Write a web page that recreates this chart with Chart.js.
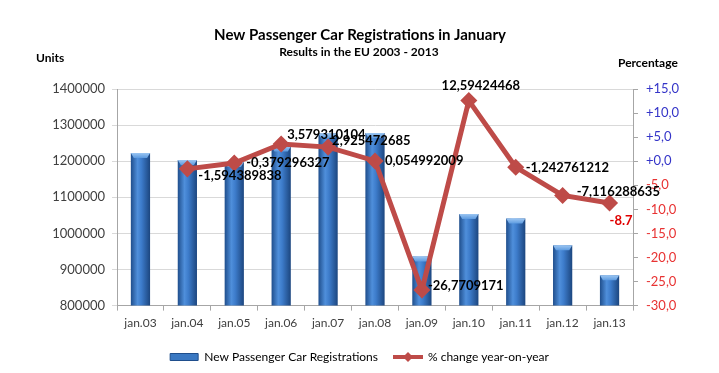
<!DOCTYPE html>
<html>
<head>
<meta charset="utf-8">
<script src="https://cdn.jsdelivr.net/npm/chart.js@4"></script>
<style>
 html,body{margin:0;padding:0;background:#fff;}
 #wrap{width:719px;height:373px;}
</style>
</head>
<body>
<div id="wrap"><canvas id="regChart" width="719" height="373"></canvas></div>
<script>
const years = ["jan.03","jan.04","jan.05","jan.06","jan.07","jan.08","jan.09","jan.10","jan.11","jan.12","jan.13"];
const registrations = [1223000,1203000,1198000,1241000,1277000,1278000,936000,1054000,1041000,967000,884000];
const pctChange = [null,-1.594389838,-0.379296327,3.579310104,2.925472685,0.054992009,-26.7709171,12.59424468,-1.242761212,-7.116288635,-8.7];
const pctLabels = ["","-1,594389838","-0,379296327","3,579310104","2,925472685","0,054992009","-26,7709171","12,59424468","-1,242761212","-7,116288635","-8.7"];

const FONT = "Lato, 'Liberation Sans', sans-serif";
const lineRed = "#be4b48";

// offsets of the value labels from their point (dx, dy, align)
const labelPos = [null,[11,7,"left"],[12,0,"left"],[6,-9,"left"],[4,-6,"left"],[10,0,"left"],
  [6,-4,"left"],[12,-15,"center"],[10,1,"left"],[14,-4,"left"],[0,18,"left"]];

function barFill(ctx){
  const chart = ctx.chart;
  const xs = chart.scales.x;
  if(!xs || ctx.dataIndex === undefined) return "#3a78c2";
  const cx = xs.getPixelForValue(ctx.dataIndex);
  const half = (xs.width/years.length)*0.41/2;
  const g = chart.ctx.createLinearGradient(cx-half,0,cx+half,0);
  g.addColorStop(0,"#1f4e8c");
  g.addColorStop(0.35,"#4f8fdb");
  g.addColorStop(0.55,"#3d7ccb");
  g.addColorStop(1,"#1c467f");
  return g;
}

// little line + diamond picture for the legend
function lineSwatch(){
  const cv = document.createElement("canvas");
  cv.width = 30; cv.height = 12;
  const c = cv.getContext("2d");
  c.strokeStyle = lineRed; c.lineWidth = 4;
  c.beginPath(); c.moveTo(0,6); c.lineTo(30,6); c.stroke();
  c.fillStyle = lineRed;
  c.beginPath(); c.moveTo(15,1); c.lineTo(20,6); c.lineTo(15,11); c.lineTo(10,6); c.closePath(); c.fill();
  return cv;
}
const swatch = lineSwatch();

// bevelled light top on each bar
const barCaps = {
  id:"barCaps",
  afterDatasetDraw(chart,args){
    if(args.index !== 1) return;
    const c = chart.ctx;
    c.save();
    args.meta.data.forEach(bar=>{
      const l = bar.x - bar.width/2, r = bar.x + bar.width/2, t = bar.y;
      const g = c.createLinearGradient(0,t,0,t+5);
      g.addColorStop(0,"#9cc6f2");
      g.addColorStop(1,"#5d9be0");
      c.fillStyle = g;
      c.beginPath();
      c.moveTo(l,t); c.lineTo(r,t); c.lineTo(r-3,t+5); c.lineTo(l+3,t+5); c.closePath();
      c.fill();
    });
    c.restore();
  }
};

const textPlugin = {
  id:"texts",
  afterDraw(chart){
    const c = chart.ctx;
    c.save();
    c.fillStyle = "#000";
    c.textAlign = "center";
    c.textBaseline = "middle";
    c.font = "bold 15px " + FONT;
    c.fillText("New Passenger Car Registrations in January", 360, 35);
    c.font = "bold 12px " + FONT;
    c.fillText("Results in the EU 2003 - 2013", 359, 52);
    c.textAlign = "left";
    c.fillText("Units", 36, 58);
    c.fillText("Percentage", 618, 63);
    c.restore();
  }
};

const valueLabels = {
  id:"valueLabels",
  afterDatasetsDraw(chart){
    const meta = chart.getDatasetMeta(0);
    const c = chart.ctx;
    c.save();
    c.font = "bold 13px " + FONT;
    c.textBaseline = "middle";
    meta.data.forEach((pt,i)=>{
      if(!labelPos[i] || pctChange[i] === null) return;
      const [dx,dy,al] = labelPos[i];
      c.textAlign = al;
      c.fillStyle = i === pctLabels.length-1 ? "#e00000" : "#000";
      c.fillText(pctLabels[i], pt.x+dx, pt.y+dy);
    });
    c.restore();
  }
};

new Chart(document.getElementById("regChart"),{
  data:{
    labels:years,
    datasets:[
      {
        type:"line",
        label:"% change year-on-year",
        data:pctChange,
        yAxisID:"y1",
        borderColor:lineRed,
        backgroundColor:lineRed,
        borderWidth:5,
        pointStyle:"rectRot",
        pointRadius:5,
        pointBackgroundColor:lineRed,
        pointBorderColor:lineRed,
        tension:0,
        order:0
      },
      {
        type:"bar",
        label:"New Passenger Car Registrations",
        data:registrations,
        yAxisID:"y",
        backgroundColor:barFill,
        borderWidth:0,
        barPercentage:0.41,
        categoryPercentage:1,
        order:1
      }
    ]
  },
  options:{
    responsive:false,
    animation:false,
    layout:{padding:{top:89,left:0,right:0,bottom:0}},
    plugins:{
      title:{display:false},
      tooltip:{enabled:false},
      legend:{
        position:"bottom",
        labels:{
          font:{family:FONT,size:12},
          color:"#000",
          usePointStyle:true,
          pointStyleWidth:28,
          boxHeight:7,
          padding:16,
          generateLabels(chart){
            return [
              {text:"New Passenger Car Registrations",fillStyle:"#3a78c2",strokeStyle:"#1f4e8c",lineWidth:1,pointStyle:"rect",datasetIndex:1},
              {text:"% change year-on-year",fillStyle:lineRed,strokeStyle:lineRed,lineWidth:0,pointStyle:swatch,datasetIndex:0}
            ];
          }
        }
      }
    },
    scales:{
      x:{
        offset:true,
        grid:{display:true,drawOnChartArea:false,offset:true,tickLength:5,color:"#a6a6a6"},
        border:{color:"#a6a6a6"},
        ticks:{font:{family:FONT,size:12},color:"#404040",padding:5}
      },
      y:{
        position:"left",
        min:800000,max:1400000,
        afterFit(s){ s.width = 117; },
        grid:{color:"#d9d9d9",tickLength:5,drawTicks:true},
        border:{color:"#a6a6a6"},
        ticks:{stepSize:100000,font:{family:FONT,size:13},color:"#404040",padding:7,
          callback:(v)=> String(v)}
      },
      y1:{
        position:"right",
        min:-30,max:15,
        afterFit(s){ s.width = 86; },
        grid:{drawOnChartArea:false,tickLength:5,color:"#a6a6a6"},
        border:{color:"#a6a6a6"},
        ticks:{
          stepSize:5,
          font:{family:FONT,size:13},
          padding:8,
          color:(c)=> c.tick.value >= 0 ? "#3535c8" : "#e83232",
          callback:(v)=> (v>=0?"+":"") + v.toFixed(1).replace(".",",")
        }
      }
    }
  },
  plugins:[textPlugin,valueLabels,barCaps]
});
</script>
</body>
</html>
